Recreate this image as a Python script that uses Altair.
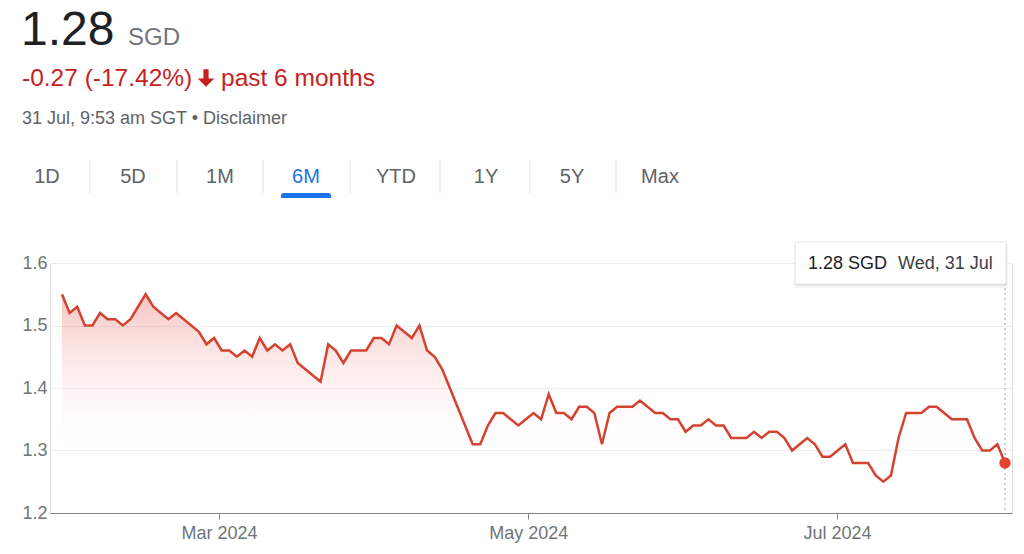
import altair as alt
import pandas as pd

# ---- data ----
price = [
    1.55, 1.52, 1.53, 1.50, 1.50, 1.52, 1.51, 1.51, 1.50, 1.51,
    1.53, 1.55, 1.53, 1.52, 1.51, 1.52, 1.51, 1.50, 1.49, 1.47,
    1.48, 1.46, 1.46, 1.45, 1.46, 1.45, 1.48, 1.46, 1.47, 1.46,
    1.47, 1.44, 1.43, 1.42, 1.41, 1.47, 1.46, 1.44, 1.46, 1.46,
    1.46, 1.48, 1.48, 1.47, 1.50, 1.49, 1.48, 1.50, 1.46, 1.45,
    1.43, 1.40, 1.37, 1.34, 1.31, 1.31, 1.34, 1.36, 1.36, 1.35,
    1.34, 1.35, 1.36, 1.35, 1.39, 1.36, 1.36, 1.35, 1.37, 1.37,
    1.36, 1.31, 1.36, 1.37, 1.37, 1.37, 1.38, 1.37, 1.36, 1.36,
    1.35, 1.35, 1.33, 1.34, 1.34, 1.35, 1.34, 1.34, 1.32, 1.32,
    1.32, 1.33, 1.32, 1.33, 1.33, 1.32, 1.30, 1.31, 1.32, 1.31,
    1.29, 1.29, 1.30, 1.31, 1.28, 1.28, 1.28, 1.26, 1.25, 1.26,
    1.32, 1.36, 1.36, 1.36, 1.37, 1.37, 1.36, 1.35, 1.35, 1.35,
    1.32, 1.30, 1.30, 1.31, 1.28,
]
month_labels = ["Mar 2024", "May 2024", "Jul 2024"]
month_pos = [20.65, 61.3, 101.9]          # trading-day index of month start
y_ticks = [1.2, 1.3, 1.4, 1.5, 1.6]
last_price_text = "1.28"
currency = "SGD"
change_text = "-0.27 (-17.42%)"
change_period = "past 6 months"
timestamp_text = "31 Jul, 9:53 am SGT \u2022 Disclaimer"
tabs = ["1D", "5D", "1M", "6M", "YTD", "1Y", "5Y", "Max"]
active_tab = "6M"
tooltip_price = "1.28 SGD"
tooltip_date = "Wed, 31 Jul"

# ---- layout ----
FONT = "Liberation Sans"
W, H = 962, 250
X_DOMAIN = [-1.578, 124.92]
tab_x = [47, 133, 220, 306, 396, 486, 572, 660]
sep_x = [90, 177, 263, 350, 440, 530, 616]
OX, OY = 50, 263   # plot origin on the page
RED = "#c5221f"
LINE_RED = "#d44330"

df = pd.DataFrame({"i": list(range(len(price))), "price": price})
last = df.iloc[[-1]]
one = pd.DataFrame({"a": [0]})

label_expr = " : ".join(
    f"abs(datum.value - {p}) < 0.5 ? '{l}'" for p, l in zip(month_pos, month_labels)
) + " : ''"

x_enc = alt.X(
    "i:Q",
    scale=alt.Scale(domain=X_DOMAIN, nice=False, zero=False),
    axis=alt.Axis(
        values=month_pos, labelExpr=label_expr, grid=False, title=None,
        domainColor="#80868b", tickColor="#80868b", tickSize=6,
        labelFontSize=18, labelColor="#70757a", labelFont=FONT, labelPadding=5,
    ),
)
y_enc = alt.Y(
    "price:Q",
    scale=alt.Scale(domain=[1.2, 1.6], nice=False, zero=False),
    axis=alt.Axis(
        values=y_ticks, format=".1f", domain=False, ticks=False, title=None,
        gridColor="#eeeeee", labelFontSize=18, labelColor="#70757a",
        labelFont=FONT, labelPadding=3,
    ),
)

grad = alt.Gradient(
    gradient="linear",
    stops=[
        alt.GradientStop(color="rgba(217,48,37,0.28)", offset=0),
        alt.GradientStop(color="rgba(240,120,110,0.10)", offset=0.4),
        alt.GradientStop(color="rgba(255,255,255,0)", offset=0.72),
    ],
    x1=1, x2=1, y1=0, y2=1,
)

area = alt.Chart(df).mark_area(color=grad).encode(x=x_enc, y=y_enc, y2=alt.datum(1.2))
line = alt.Chart(df).mark_line(color=LINE_RED, strokeWidth=2.5).encode(x="i:Q", y="price:Q")
rule = alt.Chart(last).mark_rule(color="#9aa0a6", strokeDash=[2, 3], strokeWidth=1).encode(
    x="i:Q", y=alt.value(20), y2=alt.value(H)
)
dot = alt.Chart(last).mark_circle(size=130, color="#e5432f", opacity=1).encode(x="i:Q", y="price:Q")


def txt(t, px, py, size, color, align="left", baseline="alphabetic", weight="normal"):
    return alt.Chart(pd.DataFrame({"t": [t]})).mark_text(
        align=align, baseline=baseline, fontSize=size, font=FONT, color=color, fontWeight=weight
    ).encode(x=alt.value(px - OX), y=alt.value(py - OY), text="t:N")


def rect(x1, x2, y1, y2, **kw):
    return alt.Chart(one).mark_rect(**kw).encode(
        x=alt.value(x1 - OX), x2=alt.value(x2 - OX), y=alt.value(y1 - OY), y2=alt.value(y2 - OY)
    )


ARROW = "M-0.3,-1 L0.3,-1 L0.3,0.05 L0.95,0.05 L0,1 L-0.95,0.05 L-0.3,0.05 Z"

layers = [
    txt(last_price_text, 21, 45, 48, "#202124"),
    txt(currency, 128, 45, 24, "#70757a"),
    txt(change_text, 22, 86, 24.5, RED),
    alt.Chart(one).mark_point(shape=ARROW, filled=True, size=300, color=RED, opacity=1).encode(
        x=alt.value(206 - OX), y=alt.value(78 - OY)
    ),
    txt(change_period, 221, 86, 24.5, RED),
    txt(timestamp_text, 22, 124, 18, "#5f6368"),
]
for t, px in zip(tabs, tab_x):
    layers.append(txt(t, px, 183, 20, "#1a73e8" if t == active_tab else "#5f6368", align="center"))
for px in sep_x:
    layers.append(
        alt.Chart(one).mark_rule(color="#e3e3e3", strokeWidth=1).encode(
            x=alt.value(px - OX), y=alt.value(160 - OY), y2=alt.value(193 - OY)
        )
    )
layers.append(rect(281, 331, 193, 198, color="#1a73e8", cornerRadiusTopLeft=4, cornerRadiusTopRight=4))

chart_layers = [rule, area, line, dot]

tooltip = [
    rect(794, 1008, 244, 288, color="#000000", opacity=0.04),
    rect(795, 1007, 243, 286, color="#000000", opacity=0.06),
    rect(795, 1006, 242, 284, color="#ffffff", stroke="#e6e6e6", strokeWidth=1),
    txt(tooltip_price, 808, 269, 18, "#202124"),
    txt(tooltip_date, 898, 269, 18, "#3c4043"),
]

chart = alt.layer(*chart_layers, *layers, *tooltip).properties(
    width=W, height=H,
    autosize=alt.AutoSizeParams(type="none"),
    padding={"left": OX - 8, "top": OY - 8, "right": 4, "bottom": 30},
).configure_view(stroke=None).configure(background="white")

chart.save("out.html", embed_options={"renderer": "svg", "actions": False})
